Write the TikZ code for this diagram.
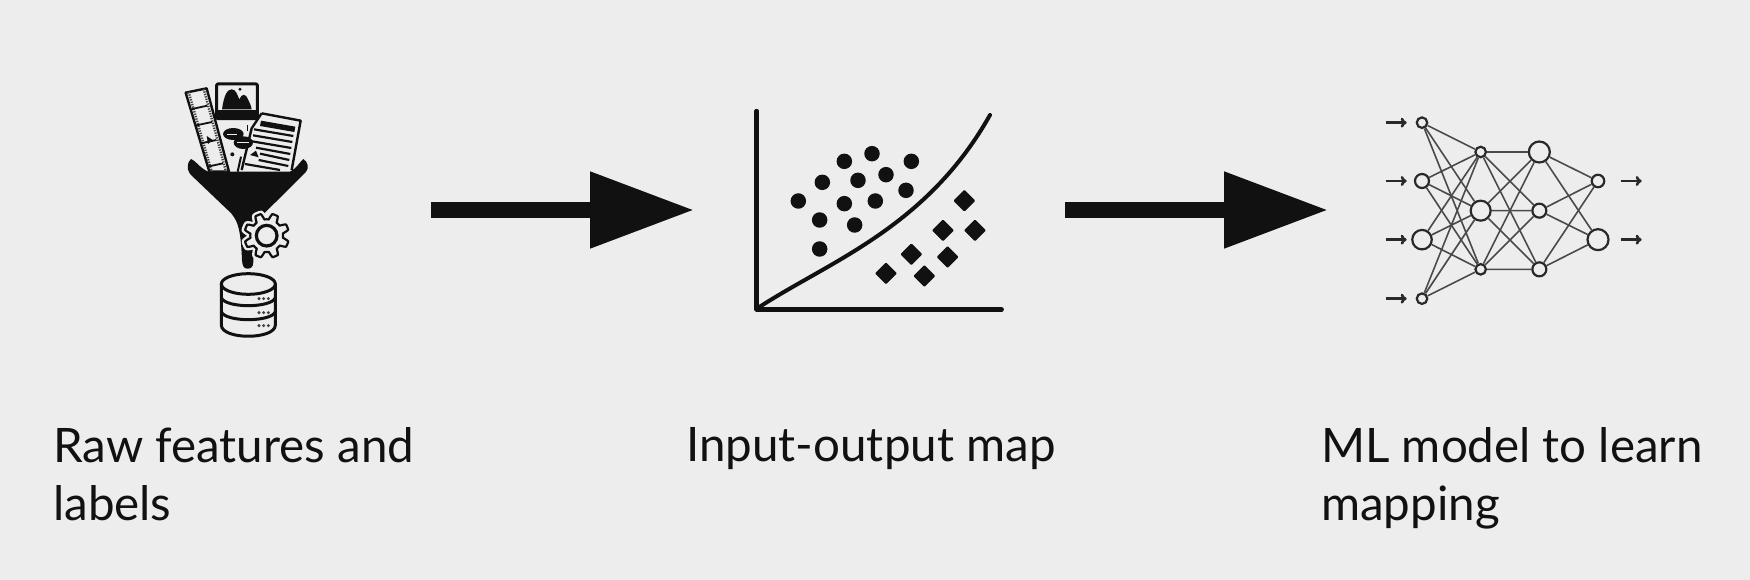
\documentclass[tikz,border=0pt]{standalone}
\usepackage{fontspec}
\setmainfont{Lato}
\usetikzlibrary{arrows.meta}
\definecolor{bg}{HTML}{EDEDED}
\definecolor{ink}{HTML}{111111}
\definecolor{wire}{HTML}{4A4A4A}
\tikzset{
  flow/.style={draw=ink,line width=15pt,-{Triangle[length=104pt,width=73pt,fill=ink]}},
  caption/.style={anchor=north west,inner sep=0pt,align=left,text=ink,font=\fontsize{47.5}{58}\selectfont},
  dot/.style={circle,fill=ink,draw=none,inner sep=0pt,minimum size=15.5pt},
  unit/.style={circle,draw=ink!90!white,line width=2.2pt,fill=bg,inner sep=0pt},
  link/.style={draw=wire,line width=1.6pt},
  pointer/.style={draw=ink!90!white,line width=2.6pt,-{To[length=6pt,width=10pt]}},
  outline/.style={draw=ink,line width=3pt,line join=round,line cap=round},
  thin ink/.style={draw=ink,line width=1.5pt},
}
\begin{document}
\begin{tikzpicture}[x=1pt,y=-1pt]
\path[use as bounding box,fill=bg] (0,0) rectangle (1750,580);

%% ---------- funnel icon (zoom coordinates) ----------
\begin{scope}[shift={(150,60)},scale=1/3]
  % film strip
  \fill[bg] (107,98) -- (170,85) -- (237,335) -- (178,335) -- cycle;
  \draw[thin ink,line width=2.4pt,line join=round] (107,98) -- (170,85) -- (237,335) -- (178,335) -- cycle;
  \draw[draw=ink!80!white,line width=2.4pt,dash pattern=on 1.3pt off 1.2pt] (116,96) -- (185,335);
  \draw[draw=ink!80!white,line width=2.4pt,dash pattern=on 1.3pt off 1.2pt] (161,87) -- (228,335);
  \foreach \xa/\ya/\xb/\yb in {126/147/172/137,139/196/186/186,153/250/199/240,173/320/219/310}
    \draw[thin ink,line width=1.8pt] (\xa,\ya) -- (\xb,\yb);
  \fill[ink] (170,228) -- (188,240) -- (174,252) -- cycle;
  % picture frame
  \draw[outline,fill=bg,rounded corners=1pt] (200,72) rectangle (322,176);
  \fill[ink] (200,150) rectangle (322,178);
  \fill[ink] (216,148) .. controls (222,105) and (232,88) .. (245,88)
     .. controls (258,88) and (262,105) .. (268,118)
     .. controls (275,100) and (288,100) .. (294,118)
     .. controls (300,130) and (304,140) .. (305,148) -- cycle;
  \fill[ink] (270,88) circle (5);
  % document
  \fill[bg] (335,160) -- (452,182) -- (425,335) -- (275,335) -- (305,200) -- cycle;
  \draw[thin ink,line width=2.4pt,line join=round] (335,160) -- (452,182) -- (425,330);
  \draw[thin ink,line width=2.4pt] (335,160) -- (305,205) -- (275,330);
  \fill[ink] (333,182) -- (436,200) -- (433,216) -- (330,198) -- cycle;
  \foreach \xa/\ya/\xb/\yb in {312/208/430/228,309/226/427/246,306/244/424/264,318/263/421/282,330/281/418/300,326/300/415/318,285/312/390/330}
    \draw[draw=ink,line width=2.2pt] (\xa,\ya) -- (\xb,\yb);
  % speech bubbles
  \fill[ink] (250,222) ellipse (31 and 18);
  \fill[ink] (280,248) ellipse (29 and 19);
  \draw[draw=bg,line width=.8pt] (232,224) -- (262,224) (262,246) -- (296,246);
  \fill[ink] (290,195) rectangle (293,212);
  \fill[ink] (247,283) circle (6);
  \fill[ink] (318,272) -- (300,285) -- (326,292) -- cycle;
  \draw[draw=ink,line width=2pt] (273,290) -- (263,335);
  % funnel body
  \fill[ink] (123,297) .. controls (135,300) and (150,325) .. (175,335)
    -- (420,335) .. controls (440,325) and (450,305) .. (460,297)
    .. controls (474,305) and (478,325) .. (467,337)
    -- (345,458) .. controls (325,478) and (312,500) .. (310,535)
    -- (310,605) .. controls (310,622) and (302,626) .. (292,626)
    .. controls (282,626) and (277,618) .. (276,600)
    .. controls (274,560) and (272,510) .. (258,482)
    .. controls (250,466) and (240,455) .. (230,447)
    -- (120,342) .. controls (108,325) and (113,305) .. (123,297) -- cycle;
  % gear
  \begin{scope}[shift={(350,527)}]
  \draw[draw=bg,line width=7pt,fill=bg,line join=round]
    plot[domain=0:360,samples=289] (\x+11:{58+9*max(-1,min(1,2*sin(8*\x)))}) -- cycle;
  \draw[draw=ink,line width=2.2pt,fill=bg,line join=round]
    plot[domain=0:360,samples=289] (\x+11:{58+9*max(-1,min(1,2*sin(8*\x)))}) -- cycle;
  \draw[draw=ink,line width=3.2pt,fill=bg] (0,0) circle (31);
  \end{scope}
  % database
  \draw[outline,fill=bg] (214,672) -- (214,795) .. controls (214,840) and (376,840) .. (376,795) -- (376,672);
  \draw[outline,fill=bg] (295,672) ellipse (81 and 31);
  \draw[outline] (214,713) .. controls (225,745) and (365,745) .. (376,713);
  \draw[outline] (214,755) .. controls (225,787) and (365,787) .. (376,755);
  \foreach \y in {716,758,797}{
    \foreach \x in {327,341,355} \fill[ink!80!white] (\x,\y) circle (5);
  }
\end{scope}

%% ---------- scatter chart ----------
\begin{scope}[shift={(730,91)},scale=1/3]
  \draw[draw=ink,line width=4.4pt,line cap=round,line join=round] (80,60) -- (80,655) -- (815,655);
  \draw[draw=ink,line width=4pt,line cap=round] (85,650) .. controls (300,510) and (590,410) .. (780,72);
  \foreach \x/\y [count=\i] in {343/211,426/188,544/211,277/274,384/268,468/251,528/298,205/330,343/338,436/330,269/387,374/402,269/474}
    \node[dot] (d\i) at (\x,\y) {};
  \foreach \x/\y in {703/329,639/418,735/418,544/490,653/498,468/547,583/555}
    \fill[ink,rounded corners=1pt] (\x,\y-33) -- (\x+33,\y) -- (\x,\y+33) -- (\x-33,\y) -- cycle;
\end{scope}

%% ---------- neural network ----------
\begin{scope}[shift={(1370,91)},scale=1/3]
  \node[unit,minimum size=10.5pt] (a1) at (156,95) {};
  \node[unit,minimum size=14pt] (a2) at (156,270) {};
  \node[unit,minimum size=19.5pt] (a3) at (156,446) {};
  \node[unit,minimum size=10.5pt] (a4) at (156,623) {};
  \node[unit,minimum size=10.5pt] (b1) at (332,183) {};
  \node[unit,minimum size=20pt] (b2) at (332,359) {};
  \node[unit,minimum size=10.5pt] (b3) at (332,535) {};
  \node[unit,minimum size=21pt] (c1) at (508,183) {};
  \node[unit,minimum size=14pt] (c2) at (508,359) {};
  \node[unit,minimum size=14pt] (c3) at (508,535) {};
  \node[unit,minimum size=12.5pt] (e1) at (684,270) {};
  \node[unit,minimum size=21pt] (e2) at (684,446) {};
  \foreach \i in {1,2,3,4}\foreach \j in {1,2,3} \draw[link] (a\i) -- (b\j);
  \foreach \i in {1,2,3}\foreach \j in {1,2,3} \draw[link] (b\i) -- (c\j);
  \foreach \i in {1,2,3}\foreach \j in {1,2} \draw[link] (c\i) -- (e\j);
  \foreach \i/\y in {1/95,2/270,3/446,4/623}{
    \coordinate (in\i) at (47,\y);
    \coordinate (im\i) at (110,\y);
    \draw[pointer] (in\i) -- (im\i);
  }
  \foreach \i/\y in {1/270,2/446}{
    \coordinate (os\i) at (752,\y);
    \coordinate (ot\i) at (815,\y);
    \draw[pointer] (os\i) -- (ot\i);
  }
\end{scope}

%% ---------- big arrows ----------
\coordinate (f1) at (431,210);
\coordinate (t1) at (694,210);
\coordinate (f2) at (1065,210);
\coordinate (t2) at (1328,210);
\draw[flow] (f1) -- (t1);
\draw[flow] (f2) -- (t2);

%% ---------- captions ----------
\node[caption] (cap1) at (53,427.6) {Raw features and\\labels};
\node[caption] (cap2) at (686,427.6) {Input-output map};
\node[caption] (cap3) at (1321,427.6) {ML model to learn\\mapping};
\end{tikzpicture}
\end{document}
